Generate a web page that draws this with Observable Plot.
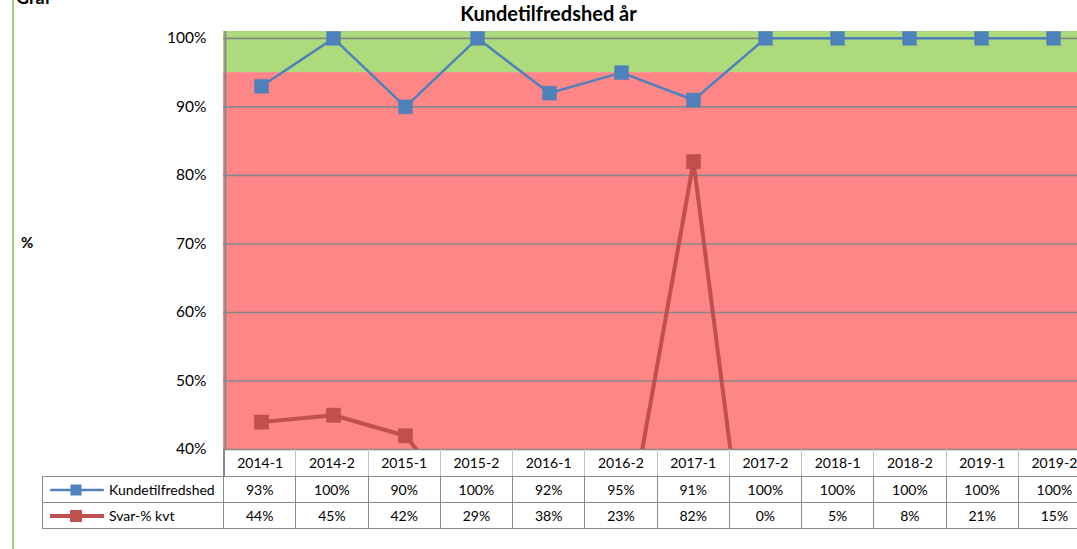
<!DOCTYPE html>
<html><head><meta charset="utf-8">
<script src="https://cdn.jsdelivr.net/npm/d3@7"></script>
<script src="https://cdn.jsdelivr.net/npm/@observablehq/plot@0.6"></script>
<style>
html,body{margin:0;padding:0;background:#fff;}
#wrap{position:relative;width:1077px;height:549px;overflow:hidden;font-family:Lato,"Open Sans",sans-serif;color:#000;background:#fff;}
.abs{position:absolute;}
.cell{position:absolute;box-sizing:border-box;display:flex;align-items:center;justify-content:center;font-size:14px;white-space:nowrap;}
</style></head><body><div id="wrap"></div>
<script>
// ---- data ----
const categories = ["2014-1","2014-2","2015-1","2015-2","2016-1","2016-2","2017-1","2017-2","2018-1","2018-2","2019-1","2019-2"];
const satisfaction = [0.93,1.00,0.90,1.00,0.92,0.95,0.91,1.00,1.00,1.00,1.00,1.00];
const responseRate = [0.44,0.45,0.42,0.29,0.38,0.23,0.82,0.00,0.05,0.08,0.21,0.15];
const seriesNames = ["Kundetilfredshed","Svar-% kvt"];
const yTicks = [0.4,0.5,0.6,0.7,0.8,0.9,1.0];
const targetLevel = 0.95;
const yMax = 1.01;
const title = "Kundetilfredshed år";
const yLabel = "%";

// ---- layout ----
const plotLeft = 223, plotRight = 1090, plotTop = 31, plotBottom = 449;
const step = (plotRight - plotLeft) / categories.length;
const blue = "#4F81BD", red = "#C0504D";
const fmt = d3.format(".0%");

const rows = categories.map((c, i) => ({cat: c, sat: satisfaction[i], resp: responseRate[i]}));

const wrap = document.getElementById("wrap");

const chart = Plot.plot({
  width: plotRight, height: plotBottom + 1,
  marginLeft: plotLeft, marginRight: 0, marginTop: plotTop, marginBottom: 1,
  x: {type: "point", domain: categories, padding: 0.5, align: 0.5, axis: null},
  y: {domain: [0.4, yMax], axis: null},
  style: {fontFamily: "Lato, 'Open Sans', sans-serif", background: "transparent", overflow: "visible", color: "#000", maxWidth: "none"},
  marks: [
    Plot.rect([{lo: targetLevel, hi: yMax}], {y1: "lo", y2: "hi", fill: "#ADDB7C"}),
    Plot.rect([{lo: 0.4, hi: targetLevel}], {y1: "lo", y2: "hi", fill: "#FF8686"}),
    Plot.ruleY(yTicks, {stroke: "#878787", strokeWidth: 1.6}),
    Plot.ruleX(categories.slice(0, 1), {x: d => d, dx: -step / 2, y1: 0.4, y2: yMax, stroke: "#878787", strokeWidth: 2}),
    Plot.text(yTicks, {y: d => d, text: d => fmt(d), frameAnchor: "left", textAnchor: "end", dx: -17, fontSize: 15.5, fill: "#000"}),
    Plot.line(rows, {x: "cat", y: "sat", stroke: blue, strokeWidth: 2.5, clip: true}),
    Plot.dot(rows, {x: "cat", y: "sat", symbol: "square", r: 7.8, fill: blue, stroke: "#4A7EBB", strokeWidth: 0.5, clip: true}),
    Plot.line(rows, {x: "cat", y: "resp", stroke: red, strokeWidth: 4, clip: true}),
    Plot.dot(rows, {x: "cat", y: "resp", symbol: "square", r: 8, fill: red, stroke: "#BE4B48", strokeWidth: 0.5, clip: true})
  ]
});
chart.style.position = "absolute";
chart.style.left = "0px";
chart.style.top = "0px";
chart.style.maxWidth = "none";
chart.style.width = plotRight + "px";
chart.style.height = (plotBottom + 1) + "px";
wrap.appendChild(chart);

// left decorative border
const edge = document.createElement("div");
edge.className = "abs";
Object.assign(edge.style, {left: "12px", top: "0px", width: "2px", height: "549px", background: "#A6CB6F"});
wrap.appendChild(edge);

// "Graf" heading, cut off at top as in the source
const graf = document.createElement("div");
graf.className = "abs";
Object.assign(graf.style, {left: "16px", top: "-14px", fontSize: "18px", fontWeight: "bold"});
graf.textContent = "Graf";
wrap.appendChild(graf);

// title
const t = document.createElement("div");
t.className = "abs";
Object.assign(t.style, {left: "0px", width: "1097px", top: "1px", textAlign: "center", fontSize: "20px", fontWeight: "bold"});
t.textContent = title;
wrap.appendChild(t);

// y label
const yl = document.createElement("div");
yl.className = "abs";
Object.assign(yl.style, {left: "21px", top: "233px", fontSize: "15px", fontWeight: "bold"});
yl.textContent = yLabel;
wrap.appendChild(yl);

// ---- data table ----
const rowY = [449, 476, 502, 529];
const legendLeft = 42;
const dark = "1.5px solid #8A8A8A", light = "1.5px solid #C4C4C4";
function cell(x, y, w, h, text, styles) {
  const d = document.createElement("div");
  d.className = "cell";
  Object.assign(d.style, {left: x + "px", top: y + "px", width: w + "px", height: h + "px"}, styles || {});
  if (text != null) d.textContent = text;
  wrap.appendChild(d);
  return d;
}
// header row
categories.forEach((c, i) => {
  const x = plotLeft + i * step;
  cell(x, rowY[0], step, rowY[1] - rowY[0], c, {borderLeft: i === 0 ? "2px solid #878787" : light});
});
// series rows
const seriesVals = [satisfaction, responseRate];
const seriesStroke = [[blue, 2.5, 11], [red, 4, 12]];
seriesVals.forEach((vals, r) => {
  const y = rowY[r + 1], h = rowY[r + 2] - rowY[r + 1];
  const lc = cell(legendLeft, y, plotLeft - legendLeft, h, null, {
    borderLeft: dark, borderTop: dark, borderBottom: r === 1 ? dark : "none", justifyContent: "flex-start", paddingLeft: "7px"
  });
  const [col, sw, sq] = seriesStroke[r];
  const ns = "http://www.w3.org/2000/svg";
  const svg = document.createElementNS(ns, "svg");
  svg.setAttribute("width", 54); svg.setAttribute("height", 14);
  svg.style.marginRight = "5px";
  const ln = document.createElementNS(ns, "line");
  ln.setAttribute("x1", 1); ln.setAttribute("x2", 53); ln.setAttribute("y1", 7); ln.setAttribute("y2", 7);
  ln.setAttribute("stroke", col); ln.setAttribute("stroke-width", sw); ln.setAttribute("stroke-linecap", "round");
  const rc = document.createElementNS(ns, "rect");
  rc.setAttribute("x", 26 - sq / 2); rc.setAttribute("y", 7 - sq / 2); rc.setAttribute("width", sq); rc.setAttribute("height", sq);
  rc.setAttribute("fill", col);
  svg.appendChild(ln); svg.appendChild(rc);
  lc.appendChild(svg);
  const sp = document.createElement("span");
  sp.textContent = seriesNames[r];
  lc.appendChild(sp);
  vals.forEach((v, i) => {
    const x = plotLeft + i * step;
    cell(x, y, step, h, fmt(v), {borderLeft: dark, borderTop: dark, borderBottom: r === 1 ? dark : "none"});
  });
});
</script></body></html>
